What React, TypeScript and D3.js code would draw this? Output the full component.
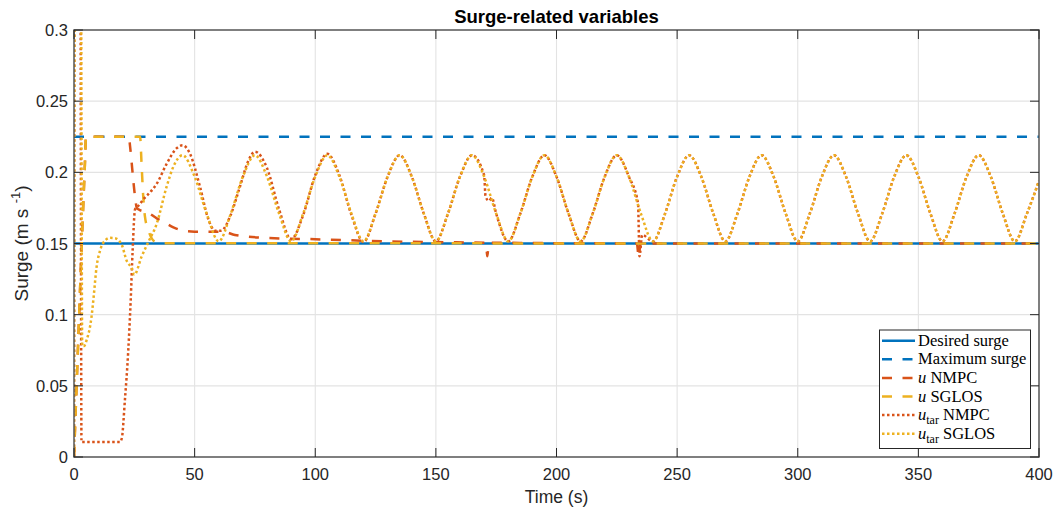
import * as d3 from 'd3'

type Pt = [number, number]

// axes ranges / ticks
const xTicks = [0, 50, 100, 150, 200, 250, 300, 350, 400]
const yTicks = [0, 0.05, 0.1, 0.15, 0.2, 0.25, 0.3]

// series, [time (s), surge (m/s)]
const desiredSurge: Pt[] = [[0, 0.15], [400, 0.15]]
const maximumSurge: Pt[] = [[0, 0.225], [400, 0.225]]

const uNmpc: Pt[] = [
  [0, 0], [1.5, 0.07], [3, 0.14], [4.5, 0.205], [5, 0.225], [22.8, 0.225], [23.2, 0.219],
  [25.3, 0.183], [26, 0.175], [26.7, 0.174], [30.8, 0.1716], [34.3, 0.1677], [37, 0.1653],
  [41.2, 0.1613], [45.3, 0.159], [50, 0.1583], [62, 0.1582], [66.7, 0.156], [79, 0.154],
  [100, 0.153], [130, 0.1515], [150, 0.151], [170.8, 0.1505], [171.3, 0.141], [171.9, 0.149],
  [172.6, 0.1505], [200, 0.1502], [233.3, 0.15], [234.1, 0.1405], [234.8, 0.15], [400, 0.15],
]

const uSglos: Pt[] = [
  [0, 0], [1.5, 0.07], [3, 0.14], [4.5, 0.205], [5, 0.225], [27.4, 0.225], [28, 0.206],
  [28.7, 0.183], [29.4, 0.169], [30.8, 0.1595], [33.6, 0.1513], [37, 0.1502], [400, 0.15],
]

const utarNmpc: Pt[] = [
  [0, 0], [0.3, 0.4], [2.6, 0.4], [3.1, 0.0105], [19, 0.0105], [19.8, 0.013], [21.1, 0.04],
  [22.5, 0.075], [23.5, 0.11], [24.3, 0.145], [25.3, 0.174], [27, 0.177], [28.7, 0.181],
  [31, 0.185], [34.3, 0.192], [38.4, 0.206], [42.6, 0.217], [45, 0.219], [48.1, 0.213],
  [52.2, 0.19], [55.7, 0.167], [58.5, 0.159], [61, 0.159], [64.7, 0.169], [68.8, 0.19],
  [72, 0.207], [75, 0.2145], [80, 0.203], [85, 0.174], [90, 0.153], [95, 0.17], [100, 0.198],
  [105, 0.213], [110, 0.198], [115, 0.17], [120, 0.151], [125, 0.171], [130, 0.197],
  [135, 0.212], [140, 0.197], [145, 0.171], [150, 0.1515], [155, 0.171], [160, 0.197],
  [165, 0.212], [170, 0.198], [170.6, 0.183], [172, 0.18], [173.2, 0.182], [175, 0.171],
  [180, 0.1515], [185, 0.171], [190, 0.197], [195, 0.212], [200, 0.197], [205, 0.171],
  [210, 0.1515], [215, 0.171], [220, 0.197], [225, 0.212], [230, 0.197], [233.8, 0.178],
  [234.4, 0.141], [235.5, 0.156], [240, 0.1515], [245, 0.171], [250, 0.197], [255, 0.212],
  [260, 0.197], [265, 0.171], [270, 0.1515], [275, 0.171], [280, 0.197], [285, 0.212],
  [290, 0.197], [295, 0.171], [300, 0.1515], [305, 0.171], [310, 0.197], [315, 0.212],
  [320, 0.197], [325, 0.171], [330, 0.1515], [335, 0.171], [340, 0.197], [345, 0.212],
  [350, 0.197], [355, 0.171], [360, 0.1515], [365, 0.171], [370, 0.197], [375, 0.212],
  [380, 0.197], [385, 0.171], [390, 0.1515], [395, 0.171], [400, 0.194],
]

const utarSglos: Pt[] = [
  [0, 0], [0.3, 0.4], [2.8, 0.4], [3.4, 0.078], [4.2, 0.078], [5.2, 0.082], [7.3, 0.099],
  [8, 0.11], [9.4, 0.134], [10.8, 0.145], [12.8, 0.152], [15, 0.154], [17, 0.1537],
  [19.8, 0.149], [21.8, 0.138], [23.9, 0.1326], [25, 0.128], [28, 0.1407], [30.8, 0.151],
  [34.3, 0.164], [38.4, 0.19], [41.2, 0.204], [45, 0.212], [50, 0.197], [55, 0.171],
  [60, 0.1515], [65, 0.171], [70, 0.197], [75, 0.212], [80, 0.197], [85, 0.171], [90, 0.1515],
  [95, 0.171], [100, 0.197], [105, 0.212], [110, 0.197], [115, 0.171], [120, 0.1515],
  [125, 0.171], [130, 0.197], [135, 0.212], [140, 0.197], [145, 0.171], [150, 0.1515],
  [155, 0.171], [160, 0.197], [165, 0.212], [170, 0.197], [175, 0.171], [180, 0.1515],
  [185, 0.171], [190, 0.197], [195, 0.212], [200, 0.197], [205, 0.171], [210, 0.1515],
  [215, 0.171], [220, 0.197], [225, 0.212], [230, 0.197], [235, 0.171], [240, 0.1515],
  [245, 0.171], [250, 0.197], [255, 0.212], [260, 0.197], [265, 0.171], [270, 0.1515],
  [275, 0.171], [280, 0.197], [285, 0.212], [290, 0.197], [295, 0.171], [300, 0.1515],
  [305, 0.171], [310, 0.197], [315, 0.212], [320, 0.197], [325, 0.171], [330, 0.1515],
  [335, 0.171], [340, 0.197], [345, 0.212], [350, 0.197], [355, 0.171], [360, 0.1515],
  [365, 0.171], [370, 0.197], [375, 0.212], [380, 0.197], [385, 0.171], [390, 0.1515],
  [395, 0.171], [400, 0.194],
]

const BLUE = '#0072BD'
const RED = '#D95319'
const YEL = '#EDB120'
const DASH = '10,10.5'
const DOT = '2.5,2.5'

const series = [
  { data: desiredSurge, color: BLUE, dash: null },
  { data: maximumSurge, color: BLUE, dash: DASH },
  { data: uNmpc, color: RED, dash: DASH },
  { data: uSglos, color: YEL, dash: DASH },
  { data: utarNmpc, color: RED, dash: DOT },
  { data: utarSglos, color: YEL, dash: DOT },
]

const SANS = '"Liberation Sans", Arial, Helvetica, sans-serif'
const SERIF = '"Liberation Serif", "Times New Roman", serif'
const AX = '#262626'

export default function App() {
  const L = 74, R = 1039, T = 30, B = 457
  const x = d3.scaleLinear().domain([0, 400]).range([L, R])
  const y = d3.scaleLinear().domain([0, 0.3]).range([B, T])
  const line = d3.line<Pt>().x(d => x(d[0])).y(d => y(d[1])).curve(d3.curveMonotoneX)

  const legendRows = [
    { color: BLUE, dash: null, label: <tspan>Desired surge</tspan> },
    { color: BLUE, dash: DASH, label: <tspan>Maximum surge</tspan> },
    { color: RED, dash: DASH, label: <><tspan fontStyle="italic">u</tspan><tspan> NMPC</tspan></> },
    { color: YEL, dash: DASH, label: <><tspan fontStyle="italic">u</tspan><tspan> SGLOS</tspan></> },
    { color: RED, dash: DOT, label: <><tspan fontStyle="italic">u</tspan><tspan fontSize={12} dy={4}>tar</tspan><tspan dy={-4}> NMPC</tspan></> },
    { color: YEL, dash: DOT, label: <><tspan fontStyle="italic">u</tspan><tspan fontSize={12} dy={4}>tar</tspan><tspan dy={-4}> SGLOS</tspan></> },
  ]
  const lgX = 879.5, lgY = 330, lgW = 151, lgH = 118.5, rowH = 18.6

  return (
    <svg width={1061} height={511} style={{ position: 'absolute', left: 0, top: 0, background: '#fff' }}>
      <defs>
        <clipPath id="plot"><rect x={L} y={T} width={R - L} height={B - T} /></clipPath>
      </defs>
      <rect x={0} y={0} width={1061} height={511} fill="#fff" />

      {/* grid */}
      <g stroke="#e3e3e3" strokeWidth={1.1}>
        {xTicks.slice(1, -1).map(t => <line key={'gx' + t} x1={x(t)} x2={x(t)} y1={T} y2={B} />)}
        {yTicks.slice(1, -1).map(t => <line key={'gy' + t} x1={L} x2={R} y1={y(t)} y2={y(t)} />)}
      </g>

      {/* data */}
      <g clipPath="url(#plot)" fill="none" strokeWidth={2.5}>
        {series.map((s, i) => (
          <path key={i} d={line(s.data) ?? ''} stroke={s.color} strokeDasharray={s.dash ?? undefined} />
        ))}
      </g>

      {/* axes box + ticks */}
      <rect x={L} y={T} width={R - L} height={B - T} fill="none" stroke="#555" strokeWidth={1.5} />
      <g stroke={AX} strokeWidth={1}>
        {xTicks.map(t => (
          <g key={'tx' + t}>
            <line x1={x(t)} x2={x(t)} y1={B} y2={B - 9} />
            <line x1={x(t)} x2={x(t)} y1={T} y2={T + 9} />
          </g>
        ))}
        {yTicks.map(t => (
          <g key={'ty' + t}>
            <line x1={L} x2={L + 9} y1={y(t)} y2={y(t)} />
            <line x1={R} x2={R - 9} y1={y(t)} y2={y(t)} />
          </g>
        ))}
      </g>

      <g fontFamily={SANS} fontSize={16.5} fill={AX}>
        {xTicks.map(t => (
          <text key={'lx' + t} x={x(t)} y={480} textAnchor="middle">{t}</text>
        ))}
        {yTicks.map(t => (
          <text key={'ly' + t} x={68} y={y(t) + 6} textAnchor="end">{d3.format('~g')(t)}</text>
        ))}
      </g>

      <text x={(L + R) / 2} y={503} textAnchor="middle" fontFamily={SANS} fontSize={17.5} fill={AX}>Time (s)</text>
      <text transform={`translate(28,${(T + B) / 2}) rotate(-90)`} textAnchor="middle" fontFamily={SANS} fontSize={19} fill={AX}>
        Surge (m s <tspan fontSize={13} dy={-8}>-1</tspan><tspan dy={8}>)</tspan>
      </text>
      <text x={(L + R) / 2} y={23} textAnchor="middle" fontFamily={SANS} fontSize={18.5} fontWeight="bold" fill="#000">
        Surge-related variables
      </text>

      {/* legend */}
      <g>
        <rect x={lgX} y={lgY} width={lgW} height={lgH} fill="#fff" stroke={AX} strokeWidth={1} />
        {legendRows.map((r, i) => {
          const cy = lgY + 10.7 + i * rowH
          return (
            <g key={'lg' + i}>
              <line x1={882} x2={915} y1={cy} y2={cy} stroke={r.color} strokeWidth={2.5}
                strokeDasharray={r.dash ?? undefined} />
              <text x={918} y={cy + 5} fontFamily={SERIF} fontSize={16.5} fill="#000">{r.label}</text>
            </g>
          )
        })}
      </g>
    </svg>
  )
}
